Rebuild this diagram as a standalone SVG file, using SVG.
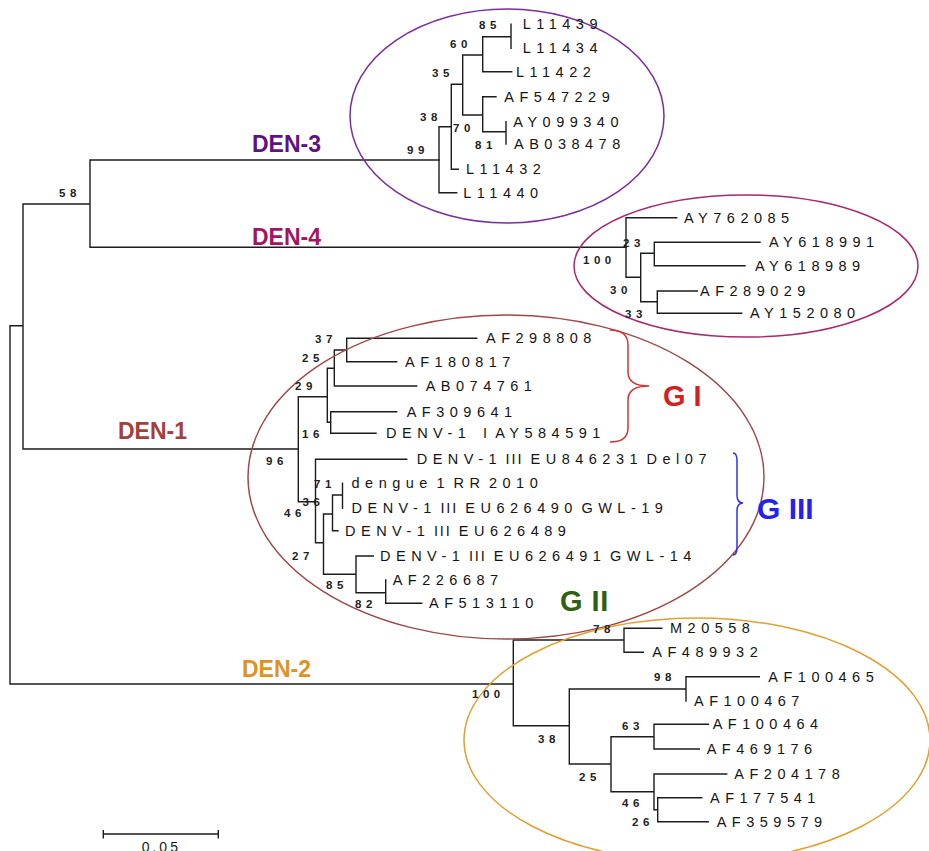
<svg xmlns="http://www.w3.org/2000/svg" width="929" height="851" viewBox="0 0 929 851">
<style>
.br{fill:none;stroke:#1c1c1c;stroke-width:1.4;stroke-linecap:square}
.lf{font-family:"Liberation Sans",Arial,sans-serif;font-size:14.5px;letter-spacing:5.5px;word-spacing:-6px;fill:#141414}
.bs{font-family:"Liberation Sans",Arial,sans-serif;font-size:11.5px;font-weight:bold;letter-spacing:4.5px;fill:#222}
.cl{font-family:"Liberation Sans",Arial,sans-serif;font-size:23px;font-weight:bold}
.gl{font-family:"Liberation Sans",Arial,sans-serif;font-weight:bold}
.el{fill:none;stroke-width:1.5}
.t3{letter-spacing:1.9px}
</style>
<rect width="929" height="851" fill="#fff"/>
<g id="connectors">
<path class="br" d="M10,325.7V684M10,325.7H23M23,204V449M23,204H90M90,160V247.3M90,160H439M90,247.3H626M23,449H298.3M10,684H513.3"/>
<path class="br" d="M439,126.7V192.7M439,192.7H456.7M439,126.7H451.3M451.3,84.3V169.3M451.3,169.3H458.3M451.3,84.3H462.7M462.7,55V115M462.7,55H482.7M482.7,36.7V71.7M482.7,36.7H511M511,24.3V48.3M482.7,71.7H511.7M462.7,115H482.7M482.7,96.7V131.7M482.7,96.7H496M482.7,131.7H506M506,121.7V144"/>
<path class="br" d="M626,217.7V277.3M626,217.7H676.7M626,277.3H640.7M640.7,253.3V301.7M640.7,253.3H654.3M654.3,242.3V265.7M654.3,242.3H760M654.3,265.7H745M640.7,301.7H657.3M657.3,291V313.3M657.3,291H697.3M657.3,313.3H741.7"/>
<path class="br" d="M298.3,396.7V501.7M298.3,396.7H327.3M327.3,368.3V422.3M327.3,368.3H334.3M334.3,350V386M334.3,350H346.7M346.7,338.3V361.7M346.7,338.3H476.7M346.7,361.7H396.7M334.3,386H416.7M327.3,422.3H330.7M330.7,411.7V433.3M330.7,411.7H396.7M330.7,433.3H376M298.3,501.7H315.5M315.5,459.3V542.7M315.5,459.3H406.7M315.5,542.7H323.5M323.5,514V574.3M323.5,514H332.5M332.5,495V530.7M332.5,495H342.5M342.5,483.3V508.3M332.5,530.7H338M323.5,574.3H356M356,556V592.7M356,556H373.3M356,592.7H385.7M385.7,580V603.3M385.7,603.3H421.7"/>
<path class="br" d="M513.3,640V725.7M513.3,640H624M624,628.3V652.3M624,628.3H661.7M624,652.3H643.3M513.3,725.7H569.3M569.3,689V764M569.3,689H686M686,676.7V701M686,676.7H759.3M569.3,764H611M611,736.7V791.7M611,736.7H654M654,724.3V749M654,724.3H708.3M654,749H699.3M611,791.7H654M654,774V809.7M654,774H726.7M654,809.7H657.7M657.7,797.7V821.7M657.7,797.7H701.7M657.7,821.7H708.3"/>
</g>
<g id="ellipses">
<ellipse id="den3-ring" class="el" cx="507" cy="116" rx="157" ry="107" stroke="#7B2D9E"/>
<ellipse id="den4-ring" class="el" cx="746" cy="266" rx="172" ry="71" stroke="#A8296F"/>
<ellipse id="den1-ring" class="el" cx="506" cy="477" rx="258" ry="162" stroke="#A04848"/>
<ellipse id="den2-ring" class="el" cx="697" cy="740" rx="233" ry="122" stroke="#E3A030"/>
</g>
<g id="clade-labels">
<text id="den3" class="cl" x="252" y="152" fill="#5E1380">DEN-3</text>
<text id="den4" class="cl" x="252" y="245" fill="#A3165F">DEN-4</text>
<text id="den1" class="cl" x="118" y="439" fill="#A3403A">DEN-1</text>
<text id="den2" class="cl" x="242" y="677" fill="#E0921F">DEN-2</text>
</g>
<g id="genotypes">
<g id="g1"><path d="M610,330Q628,330 628,345V372Q628,386 649,386Q628,386 628,400V428Q628,442 610,442" fill="none" stroke="#D93030" stroke-width="1.5"/>
<text class="gl" x="663" y="406" font-size="29" fill="#D42020">G I</text></g>
<g id="g3"><path d="M733,453Q737,453 737,461V495Q737,503 743,503Q737,503 737,511V547Q737,555 733,555" fill="none" stroke="#3030F0" stroke-width="1.5"/>
<text class="gl" x="757" y="519" font-size="30" fill="#2222EE">G III</text></g>
<g id="g2"><text class="gl" x="560" y="610.7" font-size="29" letter-spacing="0.5" fill="#2F5F10">G II</text></g>
</g>
<g id="leaves">
<g id="n-L11439"><text class="lf" x="522.7" y="29.1">L11439</text></g>
<g id="n-L11434"><text class="lf" x="522.7" y="53.1">L11434</text></g>
<g id="n-L11422"><text class="lf" x="516" y="76.5">L11422</text></g>
<g id="n-AF547229"><text class="lf" x="504.3" y="101.5">AF547229</text></g>
<g id="n-AY099340"><text class="lf" x="513.3" y="126.5">AY099340</text></g>
<g id="n-AB038478"><text class="lf" x="514" y="148.8">AB038478</text></g>
<g id="n-L11432"><text class="lf" x="466" y="174.1">L11432</text></g>
<g id="n-L11440"><text class="lf" x="463.3" y="197.5">L11440</text></g>
<g id="n-AY762085"><text class="lf" x="684" y="222.5">AY762085</text></g>
<g id="n-AY618991"><text class="lf" x="769" y="247.1">AY618991</text></g>
<g id="n-AY618989"><text class="lf" x="755" y="270.5">AY618989</text></g>
<g id="n-AF289029"><text class="lf" x="700" y="295.8">AF289029</text></g>
<g id="n-AY152080"><text class="lf" x="750" y="318.1">AY152080</text></g>
<g id="n-AF298808"><text class="lf" x="486" y="343.1">AF298808</text></g>
<g id="n-AF180817"><text class="lf" x="405" y="366.5">AF180817</text></g>
<g id="n-AB074761"><text class="lf" x="425.7" y="390.8">AB074761</text></g>
<g id="n-AF309641"><text class="lf" x="406.7" y="416.5">AF309641</text></g>
<g id="n-AY584591"><text class="lf" x="386" y="438.1">DENV-1 <tspan dx="8">I</tspan> AY584591</text></g>
<g id="n-EU846231"><text class="lf" x="416.7" y="464.1">DENV-1 <tspan class="t3">II</tspan>I EU846231 Del07</text></g>
<g id="n-RR2010"><text class="lf" x="351.5" y="488.1">dengue 1 RR 2010</text></g>
<g id="n-EU626490"><text class="lf" x="351.5" y="513.1">DENV-1 <tspan class="t3">II</tspan>I EU626490 GWL-19</text></g>
<g id="n-EU626489"><text class="lf" x="345" y="535.5">DENV-1 <tspan class="t3">II</tspan>I EU626489</text></g>
<g id="n-EU626491"><text class="lf" x="380" y="560.8">DENV-1 <tspan class="t3">II</tspan>I EU626491 GWL-14</text></g>
<g id="n-AF226687"><text class="lf" x="392.7" y="584.8">AF226687</text></g>
<g id="n-AF513110"><text class="lf" x="429" y="608.1">AF513110</text></g>
<g id="n-M20558"><text class="lf" x="670" y="633.1">M20558</text></g>
<g id="n-AF489932"><text class="lf" x="652.3" y="657.1">AF489932</text></g>
<g id="n-AF100465"><text class="lf" x="768.3" y="681.5">AF100465</text></g>
<g id="n-AF100467"><text class="lf" x="694" y="705.8">AF100467</text></g>
<g id="n-AF100464"><text class="lf" x="712.7" y="729.1">AF100464</text></g>
<g id="n-AF469176"><text class="lf" x="706.7" y="753.8">AF469176</text></g>
<g id="n-AF204178"><text class="lf" x="734.3" y="778.8">AF204178</text></g>
<g id="n-AF177541"><text class="lf" x="710" y="802.5">AF177541</text></g>
<g id="n-AF359579"><text class="lf" x="716.7" y="826.5">AF359579</text></g>
</g>
<g id="bootstrap">
<text class="bs" x="59" y="196.7">58</text>
<text class="bs" x="479" y="29">85</text>
<text class="bs" x="450" y="47.7">60</text>
<text class="bs" x="432" y="77.3">35</text>
<text class="bs" x="420" y="120.7">38</text>
<text class="bs" x="453" y="131.7">70</text>
<text class="bs" x="475" y="149">81</text>
<text class="bs" x="407" y="154">99</text>
<text class="bs" x="623" y="246.7">23</text>
<text class="bs" x="583" y="264.3">100</text>
<text class="bs" x="610" y="294.3">30</text>
<text class="bs" x="625" y="318.3">33</text>
<text class="bs" x="315" y="343">37</text>
<text class="bs" x="302" y="361.7">25</text>
<text class="bs" x="295" y="390">29</text>
<text class="bs" x="302" y="438">16</text>
<text class="bs" x="266" y="465">96</text>
<text class="bs" x="314" y="488">71</text>
<text class="bs" x="302.5" y="506">36</text>
<text class="bs" x="284" y="516.5">46</text>
<text class="bs" x="292" y="560">27</text>
<text class="bs" x="326" y="589.3">85</text>
<text class="bs" x="355" y="608.3">82</text>
<text class="bs" x="593" y="633.3">78</text>
<text class="bs" x="472" y="698.3">100</text>
<text class="bs" x="654" y="681">98</text>
<text class="bs" x="538" y="742.7">38</text>
<text class="bs" x="622" y="730">63</text>
<text class="bs" x="579" y="780.7">25</text>
<text class="bs" x="622" y="807.3">46</text>
<text class="bs" x="632" y="825.7">26</text>
</g>
<g id="scale-bar">
<path class="br" d="M103.3,834H218.3M103.3,830V838.5M218.3,830V838.5" style="stroke-linecap:butt"/>
<text x="141.7" y="851.5" font-family="Liberation Sans, Arial, sans-serif" font-size="14" letter-spacing="3" fill="#1a1a1a">0.05</text>
</g>
</svg>
